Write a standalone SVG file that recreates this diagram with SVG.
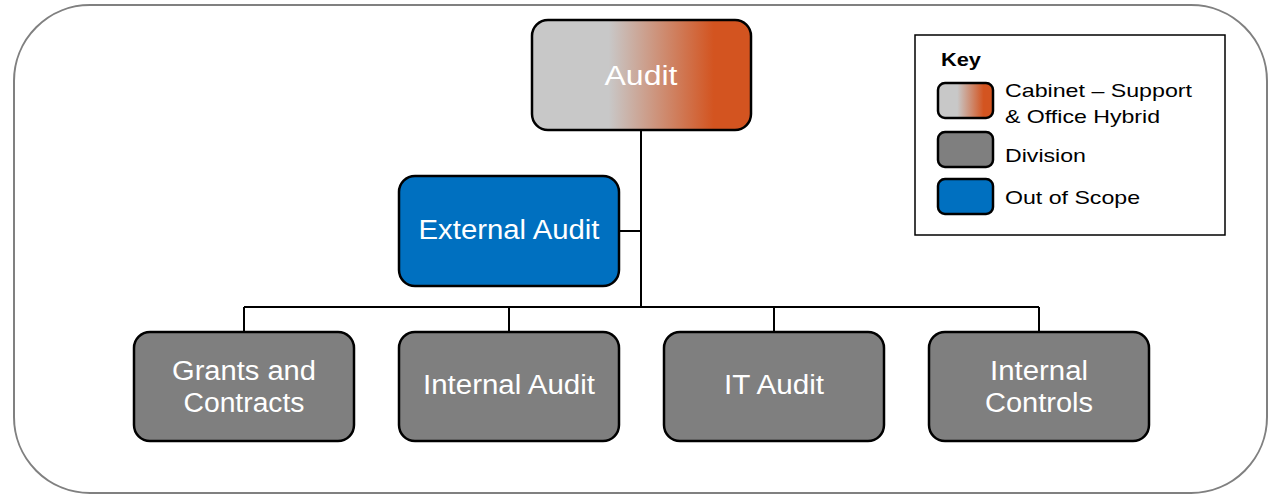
<svg xmlns="http://www.w3.org/2000/svg" width="1270" height="495" viewBox="0 0 1270 495">
<defs>
<linearGradient id="hyb" x1="0" y1="0" x2="1" y2="0">
<stop offset="0" stop-color="#c8c8c8"/>
<stop offset="0.35" stop-color="#c8c8c8"/>
<stop offset="0.83" stop-color="#d35420"/>
<stop offset="1" stop-color="#d35420"/>
</linearGradient>
<style>
.box{stroke:#000;stroke-width:2.5}
.div{fill:#7f7f7f}
.oos{fill:#0070c0}
.t{font-family:"Liberation Sans",Arial,sans-serif;font-size:27px;fill:#fff;text-anchor:middle}
.k{font-family:"Liberation Sans",Arial,sans-serif;font-size:18.5px;fill:#000}
.c{stroke:#000;stroke-width:2;fill:none}
</style>
</defs>
<rect x="14" y="5" width="1253" height="488" rx="76" ry="76" fill="#fff" stroke="#808080" stroke-width="2"/>
<g id="connectors">
<path class="c" d="M641 130V307M619 231H641M244 307H1039M244 307V332M509 307V332M774 307V332M1039 307V332"/>
</g>
<g id="audit">
<rect class="box" x="532" y="20" width="219" height="110" rx="16" fill="url(#hyb)"/>
<text class="t" x="641" y="85" font-size="30" textLength="73" lengthAdjust="spacingAndGlyphs">Audit</text>
</g>
<g id="external-audit">
<rect class="box oos" x="399" y="176" width="220" height="110" rx="16"/>
<text class="t" x="509" y="239" textLength="181" lengthAdjust="spacingAndGlyphs">External Audit</text>
</g>
<g id="grants">
<rect class="box div" x="134" y="332" width="220" height="109" rx="16"/>
<text class="t" x="244" y="380" textLength="144" lengthAdjust="spacingAndGlyphs">Grants and</text>
<text class="t" x="244" y="412" textLength="121" lengthAdjust="spacingAndGlyphs">Contracts</text>
</g>
<g id="internal-audit">
<rect class="box div" x="399" y="332" width="220" height="109" rx="16"/>
<text class="t" x="509" y="394" textLength="172" lengthAdjust="spacingAndGlyphs">Internal Audit</text>
</g>
<g id="it-audit">
<rect class="box div" x="664" y="332" width="220" height="109" rx="16"/>
<text class="t" x="774" y="394" textLength="100" lengthAdjust="spacingAndGlyphs">IT Audit</text>
</g>
<g id="internal-controls">
<rect class="box div" x="929" y="332" width="220" height="109" rx="16"/>
<text class="t" x="1039" y="380" textLength="98" lengthAdjust="spacingAndGlyphs">Internal</text>
<text class="t" x="1039" y="412" textLength="108" lengthAdjust="spacingAndGlyphs">Controls</text>
</g>
<g id="key">
<rect x="915" y="35" width="310" height="200" fill="#fff" stroke="#000" stroke-width="1.5"/>
<text class="k" x="941" y="66" font-weight="bold" textLength="40" lengthAdjust="spacingAndGlyphs">Key</text>
<rect class="box" x="938" y="83" width="55" height="35" rx="7" fill="url(#hyb)" stroke-width="2"/>
<text class="k" x="1005" y="97" textLength="187" lengthAdjust="spacingAndGlyphs">Cabinet – Support</text>
<text class="k" x="1005" y="123" textLength="155" lengthAdjust="spacingAndGlyphs">&amp; Office Hybrid</text>
<rect class="box div" x="938" y="132" width="55" height="35" rx="7" stroke-width="2"/>
<text class="k" x="1005" y="162" textLength="81" lengthAdjust="spacingAndGlyphs">Division</text>
<rect class="box oos" x="938" y="179" width="55" height="35" rx="7" stroke-width="2"/>
<text class="k" x="1005" y="204" textLength="135" lengthAdjust="spacingAndGlyphs">Out of Scope</text>
</g>
</svg>
